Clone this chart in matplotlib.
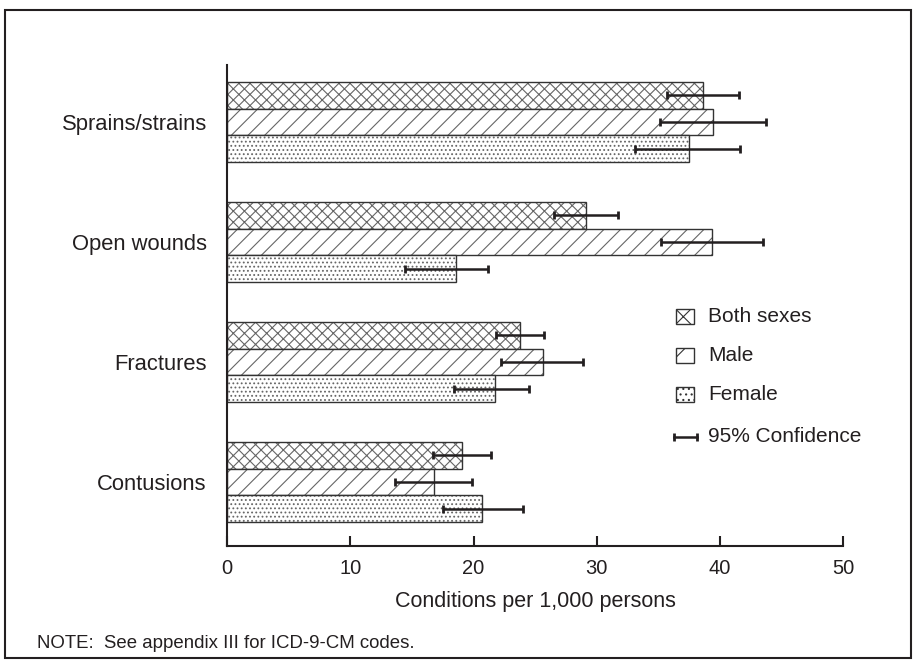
import numpy as np
import matplotlib
matplotlib.use("Agg")
import matplotlib.pyplot as plt
from matplotlib.patches import Rectangle

plt.rcParams['font.family'] = ['Liberation Sans', 'DejaVu Sans']
plt.rcParams['hatch.linewidth'] = 0.8

INK = '#231f20'

# Injury conditions per 1,000 persons, with 95% confidence limits
conditions = ['Sprains/strains', 'Open wounds', 'Fractures', 'Contusions']
series = ['Both sexes', 'Male', 'Female']

both_rate = [38.6, 29.1, 23.8, 19.1]
both_low = [35.7, 26.5, 21.8, 16.7]
both_high = [41.5, 31.7, 25.7, 21.4]

male_rate = [39.4, 39.3, 25.6, 16.8]
male_low = [35.1, 35.2, 22.2, 13.6]
male_high = [43.7, 43.5, 28.9, 19.9]

female_rate = [37.5, 18.6, 21.7, 20.7]
female_low = [33.1, 14.4, 18.4, 17.5]
female_high = [41.6, 21.2, 24.5, 24.0]

x_ticks = [0, 10, 20, 30, 40, 50]

hatches = ['xxx', '//', '....']


def main():
    fig = plt.figure(figsize=(9.17, 6.62), dpi=100)
    ax = fig.add_axes([0.2475, 0.1752, 0.6723, 0.7266])

    ypos = np.arange(len(conditions))[::-1]
    bar_h = 0.222
    offsets = [bar_h, 0.0, -bar_h]

    groups = [
        (both_rate, both_low, both_high),
        (male_rate, male_low, male_high),
        (female_rate, female_low, female_high),
    ]

    for (rate, low, high), hatch, off in zip(groups, hatches, offsets):
        rate = np.array(rate)
        y = ypos + off
        # hatched fill first, then a crisp outline on top
        ax.barh(y, rate, height=bar_h, color='white', edgecolor='#666666',
                hatch=hatch, linewidth=0)
        ax.barh(y, rate, height=bar_h, fill=False, edgecolor='#333333',
                linewidth=1.0)
        xerr = [rate - np.array(low), np.array(high) - rate]
        ax.errorbar(rate, y, xerr=xerr, fmt='none', ecolor=INK,
                    elinewidth=1.8, capsize=3, capthick=2)

    ax.set_xlim(0, 50)
    ax.set_ylim(-0.533, 3.475)
    ax.set_xticks(x_ticks)
    ax.set_yticks(ypos)
    ax.set_yticklabels(conditions)

    for side in ['top', 'right']:
        ax.spines[side].set_visible(False)
    for side in ['left', 'bottom']:
        ax.spines[side].set_linewidth(1.5)
        ax.spines[side].set_color(INK)

    ax.tick_params(axis='x', direction='in', length=7.5, width=1.5,
                   color=INK, pad=9, labelsize=14.5, labelcolor=INK)
    ax.tick_params(axis='y', length=0, pad=14.5, labelsize=15.8,
                   labelcolor=INK)
    ax.set_xlabel('Conditions per 1,000 persons', fontsize=15.5, color=INK,
                  labelpad=10)

    # legend drawn by hand in axes fractions
    def ax_xy(px, py):
        return (px - 227) / 616.5, (546 - py) / 481

    row_y = [316, 355, 394, 436.5]
    for label, hatch, py in zip(series, ['x', '/', '...'], row_y[:3]):
        x0, y0 = ax_xy(676, py + 7.5)
        x1, y1 = ax_xy(694, py - 7.5)
        ax.add_patch(Rectangle((x0, y0), x1 - x0, y1 - y0,
                               transform=ax.transAxes, facecolor='white',
                               edgecolor='#333333', hatch=hatch,
                               linewidth=1.0, clip_on=False))
        tx, ty = ax_xy(708, py)
        ax.text(tx, ty, label, transform=ax.transAxes, va='center',
                ha='left', fontsize=15, color=INK)

    cx0, cy = ax_xy(674, row_y[3])
    cx1, _ = ax_xy(697, row_y[3])
    ax.plot([cx0, cx1], [cy, cy], transform=ax.transAxes, color=INK,
            linewidth=1.8, marker='|', markersize=6, markeredgewidth=2,
            clip_on=False)
    tx, ty = ax_xy(708, row_y[3])
    ax.text(tx, ty, '95% Confidence', transform=ax.transAxes, va='center',
            ha='left', fontsize=15, color=INK)

    fig.text(37 / 917, 1 - 643 / 662, 'NOTE:  See appendix III for ICD-9-CM codes.',
             fontsize=13.4, color=INK, va='center', ha='left')

    # outer frame around the whole figure
    fig.add_artist(Rectangle((5 / 917, 4 / 662), 906 / 917, 648 / 662,
                             transform=fig.transFigure, fill=False,
                             linewidth=1.5, edgecolor=INK))

    fig.savefig('out.png', dpi=100)
    plt.close(fig)


if __name__ == '__main__':
    main()
